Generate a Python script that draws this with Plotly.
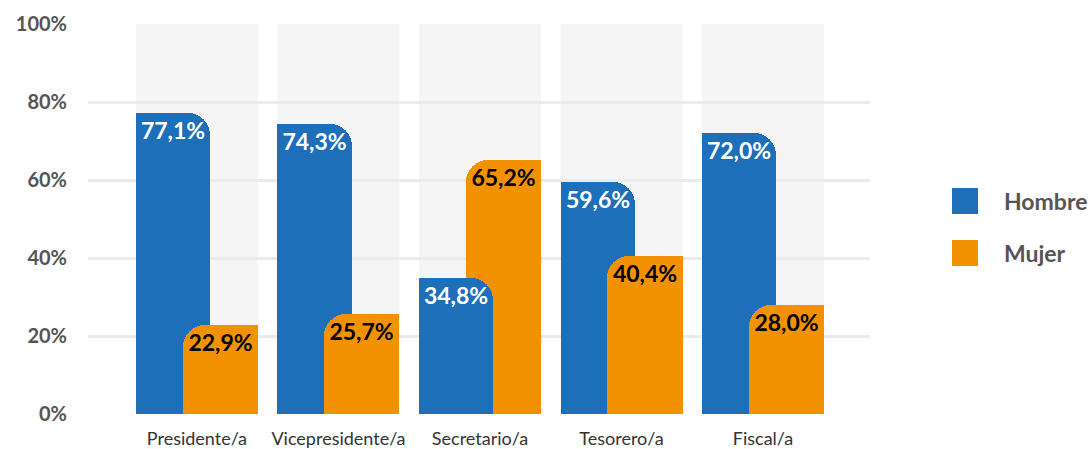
import plotly.graph_objects as go

categories = ["Presidente/a", "Vicepresidente/a", "Secretario/a", "Tesorero/a", "Fiscal/a"]
hombre = [77.1, 74.3, 34.8, 59.6, 72.0]
mujer = [22.9, 25.7, 65.2, 40.4, 28.0]
series_names = ["Hombre", "Mujer"]
y_ticks = [0, 20, 40, 60, 80, 100]
y_tick_labels = ["0%", "20%", "40%", "60%", "80%", "100%"]

BLUE = "#1c6fb8"
ORANGE = "#f39200"
FONT = "Lato"

def fmt(v):
    return f"{v:.1f}".replace(".", ",") + "%"

series = {
    "Hombre": dict(values=hombre, other=mujer, color=BLUE, tcolor="white",
                   offset=-0.431, width=0.523, sq_offset=-0.431, sq_width=0.3),
    "Mujer": dict(values=mujer, other=hombre, color=ORANGE, tcolor="black",
                  offset=-0.099, width=0.530, sq_offset=0.131, sq_width=0.3),
}

fig = go.Figure()
for layer in ["back", "front"]:
    for name in series_names:
        s = series[name]
        if layer == "back":
            vals = [v if v >= o else None for v, o in zip(s["values"], s["other"])]
        else:
            vals = [v if v < o else None for v, o in zip(s["values"], s["other"])]
        # square part (keeps one top corner square)
        fig.add_trace(go.Bar(
            x=categories, y=vals, offset=s["sq_offset"], width=s["sq_width"],
            marker=dict(color=s["color"], line=dict(width=0)),
            showlegend=False, hoverinfo="skip", legendgroup=name, name=name,
        ))
        # rounded full bar
        fig.add_trace(go.Bar(
            x=categories, y=vals, offset=s["offset"], width=s["width"],
            marker=dict(color=s["color"], line=dict(width=0), cornerradius=22),
            showlegend=False, legendgroup=name, name=name,
        ))
        # value labels (transparent bar carrying the text)
        fig.add_trace(go.Bar(
            x=categories, y=vals, offset=s["offset"], width=s["width"],
            marker=dict(color="rgba(0,0,0,0)", line=dict(width=0)),
            text=[fmt(v) if v is not None else "" for v in vals],
            textposition="inside", insidetextanchor="end",
            textfont=dict(family=FONT, size=23, color=s["tcolor"], weight="bold"),
            constraintext="none", textangle=0, hoverinfo="skip",
            showlegend=False, legendgroup=name, name=name,
        ))

# gray background columns
shapes = []
for i, _ in enumerate(categories):
    shapes.append(dict(type="rect", xref="x", yref="y", x0=i - 0.431, x1=i + 0.431,
                       y0=0, y1=100, fillcolor="#f5f5f5", line=dict(width=0), layer="below"))

# legend (manual, large squares)
px_l, px_w, px_t, px_h = 88, 782, 24, 390
def xp(px):
    return (px - px_l) / px_w
def yp(py):
    return (px_t + px_h - py) / px_h

annotations = []
for name, top in [("Hombre", 188), ("Mujer", 240)]:
    shapes.append(dict(type="rect", xref="paper", yref="paper",
                       x0=xp(952), x1=xp(978), y0=yp(top + 26), y1=yp(top),
                       fillcolor=series[name]["color"], line=dict(width=0)))
    annotations.append(dict(xref="paper", yref="paper", x=xp(1002), y=yp(top + 13),
                            xanchor="left", yanchor="middle", showarrow=False, text=name,
                            font=dict(family=FONT, size=23, color="#555555", weight="bold")))

fig.update_layout(
    width=1091, height=449,
    margin=dict(l=88, r=221, t=24, b=35, autoexpand=False),
    paper_bgcolor="white", plot_bgcolor="white",
    barmode="overlay", bargap=0,
    showlegend=False,
    shapes=shapes, annotations=annotations,
    font=dict(family=FONT),
    xaxis=dict(range=[-0.77, 4.756], showgrid=False, zeroline=False, showline=False,
               ticks="", tickfont=dict(family=FONT, size=18, color="#333333"),
               ticklabelstandoff=12, fixedrange=True, automargin=False),
    yaxis=dict(range=[0, 100], tickvals=y_ticks, ticktext=y_tick_labels,
               showgrid=True, gridcolor="#ebebeb", gridwidth=3,
               zeroline=False, showline=False, ticks="",
               tickfont=dict(family=FONT, size=20, color="#555555", weight="bold"),
               ticklabelstandoff=20, fixedrange=True, automargin=False),
)

fig.write_html(
    "out.html",
    config={"displayModeBar": False},
    post_script="document.body.style.margin='0';document.body.style.overflow='hidden';",
)
